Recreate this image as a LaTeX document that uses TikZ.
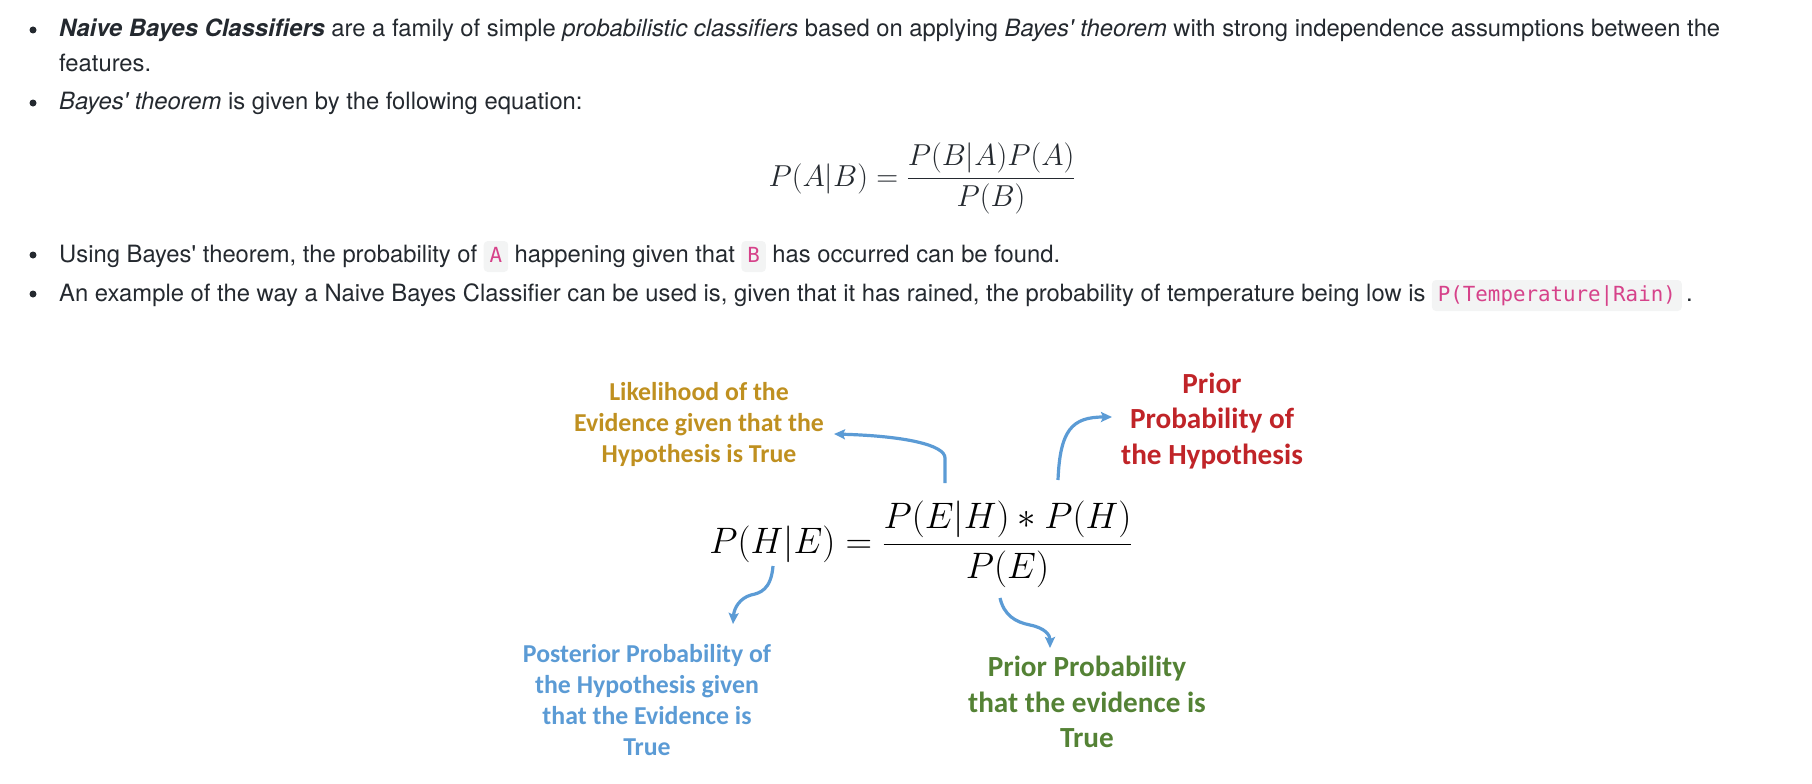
\RequirePackage{fix-cm}
\documentclass[tikz,border=0pt]{standalone}
\usepackage{fontspec}
\setmainfont{TeX Gyre Heros}
\setmonofont{DejaVu Sans Mono}
\newfontfamily\calfont{Carlito}
\usetikzlibrary{arrows.meta,positioning}
\definecolor{bodytext}{RGB}{36,41,47}
\definecolor{codepink}{RGB}{214,66,138}
\definecolor{codebg}{RGB}{243,244,244}
\definecolor{arrowblue}{RGB}{91,155,213}
\definecolor{likegold}{RGB}{191,144,32}
\definecolor{priorred}{RGB}{192,36,40}
\definecolor{postblue}{RGB}{91,155,213}
\definecolor{evgreen}{RGB}{84,130,53}
\begin{document}
\begin{tikzpicture}[x=1pt, y=-1pt, >={Stealth[length=11pt,width=10pt,inset=2pt]},
    body/.style={anchor=base west, inner sep=0pt, text=bodytext, font=\fontsize{23.8}{28}\selectfont},
    itemdot/.style={circle, fill=bodytext, inner sep=0pt, minimum size=7pt},
    codebox/.style={anchor=base west, fill=codebg, rounded corners=4pt, text=codepink,
        font=\ttfamily\fontsize{20.8}{24}\selectfont, inner xsep=6pt, inner ysep=5pt, text height=16pt, text depth=5pt},
    note/.style={align=center, inner sep=0pt, font=\calfont\bfseries\fontsize{25.8}{31}\selectfont},
    bignote/.style={note, font=\calfont\bfseries\fontsize{29.2}{35.8}\selectfont},
    pointer/.style={->, arrowblue, line width=3.2pt}]
    \useasboundingbox (0,0) rectangle (1812,784);

    % bullet list
    \node[itemdot] (d1) at (33,30) {};
    \node[body] (naive) at (59,37) {\textbf{\textit{Naive Bayes Classifiers}} are a family of simple \textit{probabilistic classifiers} based on applying \textit{Bayes\textquotesingle{} theorem} with strong independence assumptions between the};
    \node[body] (feat) at (59,71) {features.};
    \node[itemdot] (d2) at (33,103) {};
    \node[body] (given) at (59,110) {\textit{Bayes\textquotesingle{} theorem} is given by the following equation:};
    \node[anchor=base, inner sep=0pt, text=bodytext, font=\fontsize{30.3}{34}\selectfont] (bayes) at (922,186)
        {$\displaystyle P(A|B) = \frac{P(B|A)P(A)}{P(B)}$};

    \node[itemdot] (d3) at (33,255) {};
    \node[body] (use) at (59,262) {Using Bayes\textquotesingle{} theorem, the probability of};
    \node[codebox] (codea) at ([xshift=6pt]use.base east) {A};
    \node[body] (use2) at ([xshift=6pt]codea.base east) {happening given that};
    \node[codebox] (codeb) at ([xshift=6pt]use2.base east) {B};
    \node[body] (use3) at ([xshift=6pt]codeb.base east) {has occurred can be found.};

    \node[itemdot] (d4) at (33,294) {};
    \node[body] (ex) at (59,301) {An example of the way a Naive Bayes Classifier can be used is, given that it has rained, the probability of temperature being low is};
    \node[codebox] (codet) at ([xshift=6pt]ex.base east) {P(Temperature|Rain)};
    \node[body] (ex2) at ([xshift=4pt]codet.base east) {.};

    % annotated formula
    \node[anchor=base, inner sep=0pt, font=\fontsize{36.8}{42}\selectfont] (hyp) at (921,553)
        {$\displaystyle P(H|E) = \frac{P(E|H) * P(H)}{P(E)}$};
    \node[note, text=likegold] (likeli) at (699,424) {Likelihood of the\\Evidence given that the\\Hypothesis is True};
    \node[bignote, text=priorred] (prior) at (1212,421) {Prior\\Probability of\\the Hypothesis};
    \node[note, text=postblue] (post) at (647,700) {Posterior Probability of\\the Hypothesis given\\that the Evidence is\\True};
    \node[bignote, text=evgreen] (evid) at (1087,702) {Prior Probability\\that the evidence is\\True};

    \coordinate (likeli-s) at (945,483); \coordinate (likeli-e) at (834,434);
    \coordinate (prior-s) at (1058,480); \coordinate (prior-e) at (1112,417);
    \coordinate (post-s) at (773,566);   \coordinate (post-e) at (733,624);
    \coordinate (evid-s) at (1000,598);  \coordinate (evid-e) at (1050,648);

    \draw[pointer] (likeli-s) -- ++(0,-25) .. controls +(0,-13) and (905,436) .. (likeli-e);
    \draw[pointer] (prior-s) .. controls (1060,430) and (1072,417) .. (prior-e);
    \draw[pointer] (post-s) .. controls (771,590) and (760,593) .. (751,595)
        .. controls (740,598) and (734,608) .. (post-e);
    \draw[pointer] (evid-s) .. controls (1004,615) and (1015,622) .. (1030,625)
        .. controls (1045,628) and (1050,635) .. (evid-e);
\end{tikzpicture}
\end{document}
